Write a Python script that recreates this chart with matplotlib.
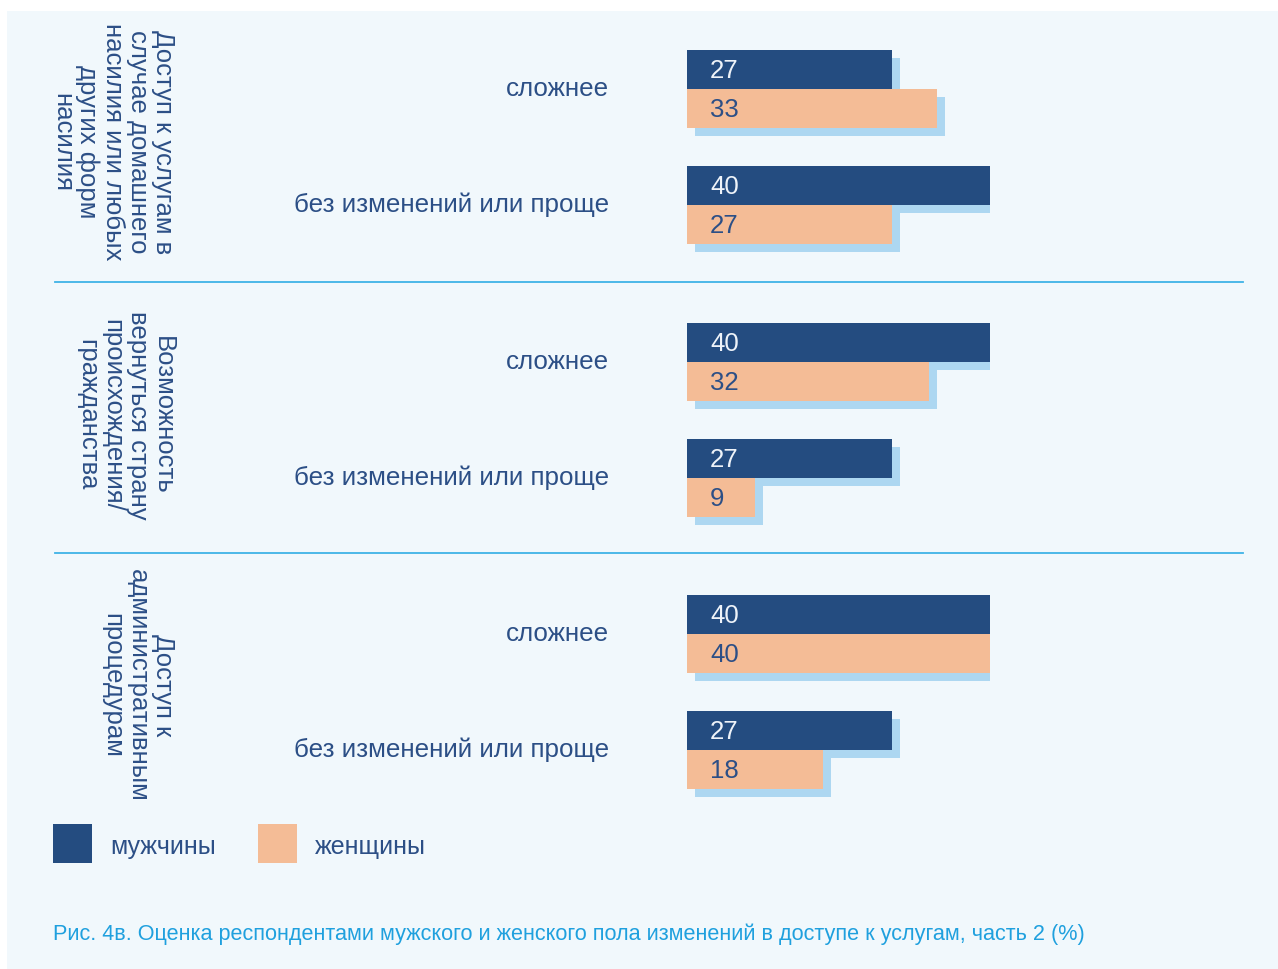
import matplotlib.pyplot as plt
import matplotlib.patheffects as pe
from matplotlib.patches import Rectangle

# data
groups = [
    "Доступ к услугам в\nслучае домашнего\nнасилия или любых\nдругих форм\nнасилия",
    "Возможность\nвернуться страну\nпроисхождения/\nгражданства",
    "Доступ к\nадминистративным\nпроцедурам",
]
categories = ["сложнее", "без изменений или проще"]
men = [27, 40, 40, 27, 40, 27]
women = [33, 27, 32, 9, 40, 18]
series_names = ["мужчины", "женщины"]
caption = ("Рис. 4в. Оценка респондентами мужского и женского пола "
           "изменений в доступе к услугам, часть 2 (%)")

# colours
c_men = "#244c80"
c_women = "#f4bc96"
c_shadow = "#add7f1"
c_bg = "#f1f8fc"
c_text = "#2c4f86"
c_line = "#3fb3e6"
c_caption = "#1fa0de"

W, H = 1278, 969
plt.rcParams["font.family"] = ["Liberation Sans", "DejaVu Sans"]

fig = plt.figure(figsize=(W / 100, H / 100), dpi=100)
fig.patch.set_facecolor("white")

# background axes in pixel coordinates
bg = fig.add_axes([0, 0, 1, 1])
bg.set_xlim(0, W)
bg.set_ylim(H, 0)
bg.axis("off")
bg.add_patch(Rectangle((7, 11), W - 7, H - 11, facecolor=c_bg, edgecolor="none"))

# bar axes: 0..40 spans 687..990 px
x0, x40 = 687, 990
ax = fig.add_axes([x0 / W, 0, (x40 - x0) / W, 1])
ax.set_xlim(0, 40)
ax.set_ylim(H, 0)
ax.axis("off")
ax.patch.set_alpha(0)

group_top = [50, 323, 595]
bar_h = 39
cat_step = 116
men_y, women_y, pair_y = [], [], []
for g in group_top:
    for k in range(len(categories)):
        top = g + k * cat_step
        men_y.append(top + bar_h / 2)
        women_y.append(top + bar_h * 1.5)
        pair_y.append(top + bar_h)

shadow = [pe.SimplePatchShadow(offset=(5.76, -5.76), shadow_rgbFace=c_shadow, alpha=1.0),
          pe.Normal()]
ax.barh(men_y, men, height=bar_h, color=c_men, path_effects=shadow)
ax.barh(women_y, women, height=bar_h, color=c_women, path_effects=shadow)

for y, v in zip(men_y, men):
    ax.annotate(str(v), (0, y + 1.5), xytext=(16.5, 0), textcoords="offset points",
                ha="left", va="center", fontsize=18.5, color="#eef3f9")
for y, v in zip(women_y, women):
    ax.annotate(str(v), (0, y + 1.5), xytext=(16.5, 0), textcoords="offset points",
                ha="left", va="center", fontsize=18.5, color=c_text)

# category labels
for i, y in enumerate(pair_y):
    bg.text(609, y, categories[i % 2], ha="right", va="center",
            fontsize=18.7, color=c_text)

# group labels (rotated)
group_mid = [142, 415, 685]
for label, y in zip(groups, group_mid):
    bg.text(175, y, label, rotation=-90, ha="right", va="center",
            multialignment="center", fontsize=18.5, color=c_text, linespacing=1.06)

# separators
for y in [282, 553]:
    bg.plot([55, 1243], [y, y], color=c_line, lw=1.3)

# legend
for x, c, name in [(53, c_men, series_names[0]), (258, c_women, series_names[1])]:
    bg.add_patch(Rectangle((x, 824), 39, 39, facecolor=c, edgecolor="none"))
    bg.text(x + 57, 847, name, ha="left", va="center", fontsize=18, color=c_text)

bg.text(53, 934, caption, ha="left", va="center", fontsize=15.6, color=c_caption)

fig.savefig("out.png", dpi=100)
